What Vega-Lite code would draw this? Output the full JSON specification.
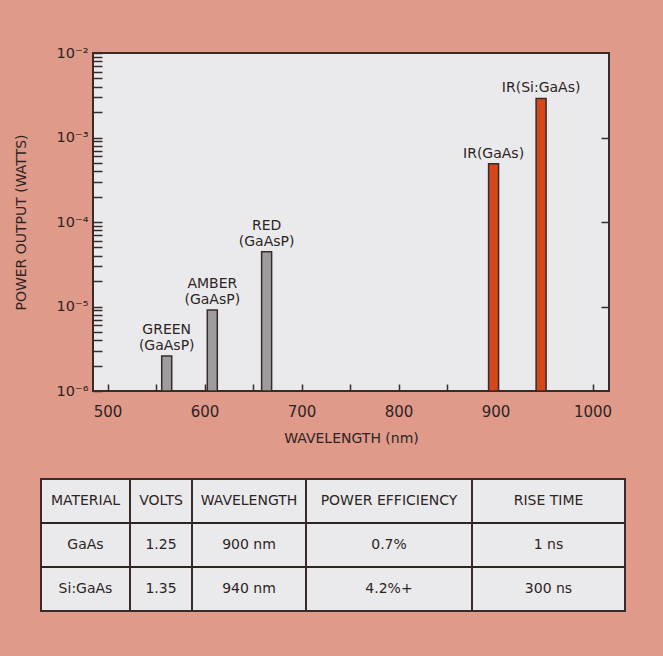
{
  "$schema": "https://vega.github.io/schema/vega-lite/v6.json",
  "background": "#df9a89",
  "padding": {"left": 13, "top": 44, "right": 38, "bottom": 45},
  "datasets": {
    "diodes": [
      {"wavelength": 561, "power": 0.0000026, "kind": "visible", "upper": "GREEN", "lower": "(GaAsP)"},
      {"wavelength": 608, "power": 0.0000091, "kind": "visible", "upper": "AMBER", "lower": "(GaAsP)"},
      {"wavelength": 664, "power": 0.0000445, "kind": "visible", "upper": "RED", "lower": "(GaAsP)"},
      {"wavelength": 898, "power": 0.00049, "kind": "infrared", "upper": "", "lower": "IR(GaAs)"},
      {"wavelength": 947, "power": 0.0029, "kind": "infrared", "upper": "", "lower": "IR(Si:GaAs)"}
    ],
    "table": [
      {"r": 0, "c": 0, "t": "MATERIAL"},
      {"r": 0, "c": 1, "t": "VOLTS"},
      {"r": 0, "c": 2, "t": "WAVELENGTH"},
      {"r": 0, "c": 3, "t": "POWER EFFICIENCY"},
      {"r": 0, "c": 4, "t": "RISE TIME"},
      {"r": 1, "c": 0, "t": "GaAs"},
      {"r": 1, "c": 1, "t": "1.25"},
      {"r": 1, "c": 2, "t": "900 nm"},
      {"r": 1, "c": 3, "t": "0.7%"},
      {"r": 1, "c": 4, "t": "1 ns"},
      {"r": 2, "c": 0, "t": "Si:GaAs"},
      {"r": 2, "c": 1, "t": "1.35"},
      {"r": 2, "c": 2, "t": "940 nm"},
      {"r": 2, "c": 3, "t": "4.2%+"},
      {"r": 2, "c": 4, "t": "300 ns"}
    ]
  },
  "config": {
    "font": "DejaVu Sans",
    "view": {"stroke": "#3a2b2b", "strokeWidth": 2, "fill": "#eaeaec"},
    "axis": {
      "labelFont": "DejaVu Sans",
      "titleFont": "DejaVu Sans",
      "labelColor": "#2e2424",
      "titleColor": "#2e2424",
      "tickColor": "#3a2b2b",
      "tickWidth": 1.5,
      "domain": false,
      "grid": false,
      "titleFontWeight": "normal",
      "labelOverlap": false,
      "labelFlush": false
    },
    "text": {"font": "DejaVu Sans", "color": "#2e2424"}
  },
  "spacing": 32,
  "vconcat": [
    {
      "spacing": 12,
      "bounds": "flush",
      "hconcat": [
        {
          "width": 40,
          "height": 338,
          "data": {"values": []},
          "mark": "point",
          "view": {"stroke": null, "fill": null}
        },
        {
          "width": 516,
          "height": 338,
          "data": {"name": "diodes"},
          "encoding": {
            "x": {
              "field": "wavelength", "type": "quantitative",
              "scale": {"domain": [485, 1017], "nice": false, "zero": false, "padding": 0},
              "axis": {
                "values": [500, 550, 600, 650, 700, 750, 800, 850, 900, 950, 1000],
                "format": "d",
                "labelExpr": "datum.value % 100 == 0 ? datum.label : ''",
                "tickSize": -7,
                "labelPadding": 20,
                "labelFontSize": 15,
                "titleFontSize": 14,
                "titlePadding": 12
              },
              "title": "WAVELENGTH (nm)"
            }
          },
          "layer": [
            {
              "mark": {"type": "bar", "width": 10, "stroke": "#3a2b2b", "strokeWidth": 1.5},
              "encoding": {
                "y": {
                  "field": "power", "type": "quantitative",
                  "scale": {"type": "log", "domain": [0.000001, 0.01], "nice": false},
                  "axis": {
                    "orient": "left",
                    "values": [0.000001, 0.000002, 0.000003, 0.000004, 0.000005, 0.000006, 0.000007, 0.000008, 0.000009,
                               0.00001, 0.00002, 0.00003, 0.00004, 0.00005, 0.00006, 0.00007, 0.00008, 0.00009,
                               0.0001, 0.0002, 0.0003, 0.0004, 0.0005, 0.0006, 0.0007, 0.0008, 0.0009,
                               0.001, 0.002, 0.003, 0.004, 0.005, 0.006, 0.007, 0.008, 0.009, 0.01],
                    "labelExpr": "datum.value == 0.01 ? '10⁻²' : datum.value == 0.001 ? '10⁻³' : datum.value == 0.0001 ? '10⁻⁴' : datum.value == 0.00001 ? '10⁻⁵' : datum.value == 0.000001 ? '10⁻⁶' : ''",
                    "tickSize": -9,
                    "labelPadding": 14,
                    "labelFontSize": 14.5,
                    "titleFontSize": 14,
                    "titlePadding": 28
                  },
                  "title": "POWER OUTPUT (WATTS)"
                },
                "y2": {"datum": 0.000001},
                "color": {
                  "field": "kind", "type": "nominal",
                  "scale": {"domain": ["visible", "infrared"], "range": ["#9d9d9d", "#d4471b"]},
                  "legend": null
                }
              }
            },
            {
              "mark": {"type": "text", "baseline": "bottom", "dy": -3, "fontSize": 14, "align": "center"},
              "encoding": {
                "y": {
                  "field": "power", "type": "quantitative",
                  "axis": {
                    "orient": "right",
                    "values": [0.00001, 0.0001, 0.001],
                    "labels": false,
                    "tickSize": -8,
                    "title": null
                  }
                },
                "text": {"field": "lower"}
              }
            },
            {
              "mark": {"type": "text", "baseline": "bottom", "dy": -19, "fontSize": 14, "align": "center"},
              "encoding": {
                "y": {"field": "power", "type": "quantitative", "axis": null},
                "text": {"field": "upper"}
              }
            },
            {
              "data": {"values": [{"note": "FLAT DIODES AT 50 ma FORWARD BIAS"}]},
              "mark": {"type": "text", "baseline": "alphabetic", "align": "center", "fontSize": 14.5, "lineHeight": 19.5},
              "encoding": {
                "x": {"datum": 592, "type": "quantitative"},
                "y": {"datum": 0.00442, "type": "quantitative", "axis": null},
                "text": {"value": ["FLAT DIODES AT", "50 ma FORWARD", "BIAS"]}
              }
            }
          ],
          "resolve": {"axis": {"y": "independent"}}
        }
      ]
    },
    {
      "spacing": 0,
      "bounds": "flush",
      "hconcat": [
        {
          "width": 89, "height": 132,
          "data": {"name": "table"},
          "transform": [{"filter": "datum.c == 0"}],
          "layer": [
            {
              "transform": [{"filter": "datum.r > 0"}],
              "mark": {"type": "rule", "stroke": "#2e2424", "strokeWidth": 2},
              "encoding": {"y": {"field": "r", "type": "ordinal", "bandPosition": 0, "scale": {"type": "band", "paddingInner": 0, "paddingOuter": 0}, "axis": null}}
            },
            {
              "mark": {"type": "text", "fontSize": 14, "baseline": "middle", "align": "center"},
              "encoding": {
                "y": {"field": "r", "type": "ordinal", "scale": {"type": "band", "paddingInner": 0, "paddingOuter": 0}, "axis": null},
                "text": {"field": "t"}
              }
            }
          ]
        },
        {
          "width": 62, "height": 132,
          "data": {"name": "table"},
          "transform": [{"filter": "datum.c == 1"}],
          "layer": [
            {
              "transform": [{"filter": "datum.r > 0"}],
              "mark": {"type": "rule", "stroke": "#2e2424", "strokeWidth": 2},
              "encoding": {"y": {"field": "r", "type": "ordinal", "bandPosition": 0, "scale": {"type": "band", "paddingInner": 0, "paddingOuter": 0}, "axis": null}}
            },
            {
              "mark": {"type": "text", "fontSize": 14, "baseline": "middle", "align": "center"},
              "encoding": {
                "y": {"field": "r", "type": "ordinal", "scale": {"type": "band", "paddingInner": 0, "paddingOuter": 0}, "axis": null},
                "text": {"field": "t"}
              }
            }
          ]
        },
        {
          "width": 114, "height": 132,
          "data": {"name": "table"},
          "transform": [{"filter": "datum.c == 2"}],
          "layer": [
            {
              "transform": [{"filter": "datum.r > 0"}],
              "mark": {"type": "rule", "stroke": "#2e2424", "strokeWidth": 2},
              "encoding": {"y": {"field": "r", "type": "ordinal", "bandPosition": 0, "scale": {"type": "band", "paddingInner": 0, "paddingOuter": 0}, "axis": null}}
            },
            {
              "mark": {"type": "text", "fontSize": 14, "baseline": "middle", "align": "center"},
              "encoding": {
                "y": {"field": "r", "type": "ordinal", "scale": {"type": "band", "paddingInner": 0, "paddingOuter": 0}, "axis": null},
                "text": {"field": "t"}
              }
            }
          ]
        },
        {
          "width": 166, "height": 132,
          "data": {"name": "table"},
          "transform": [{"filter": "datum.c == 3"}],
          "layer": [
            {
              "transform": [{"filter": "datum.r > 0"}],
              "mark": {"type": "rule", "stroke": "#2e2424", "strokeWidth": 2},
              "encoding": {"y": {"field": "r", "type": "ordinal", "bandPosition": 0, "scale": {"type": "band", "paddingInner": 0, "paddingOuter": 0}, "axis": null}}
            },
            {
              "mark": {"type": "text", "fontSize": 14, "baseline": "middle", "align": "center"},
              "encoding": {
                "y": {"field": "r", "type": "ordinal", "scale": {"type": "band", "paddingInner": 0, "paddingOuter": 0}, "axis": null},
                "text": {"field": "t"}
              }
            }
          ]
        },
        {
          "width": 153, "height": 132,
          "data": {"name": "table"},
          "transform": [{"filter": "datum.c == 4"}],
          "layer": [
            {
              "transform": [{"filter": "datum.r > 0"}],
              "mark": {"type": "rule", "stroke": "#2e2424", "strokeWidth": 2},
              "encoding": {"y": {"field": "r", "type": "ordinal", "bandPosition": 0, "scale": {"type": "band", "paddingInner": 0, "paddingOuter": 0}, "axis": null}}
            },
            {
              "mark": {"type": "text", "fontSize": 14, "baseline": "middle", "align": "center"},
              "encoding": {
                "y": {"field": "r", "type": "ordinal", "scale": {"type": "band", "paddingInner": 0, "paddingOuter": 0}, "axis": null},
                "text": {"field": "t"}
              }
            }
          ]
        }
      ]
    }
  ]
}
